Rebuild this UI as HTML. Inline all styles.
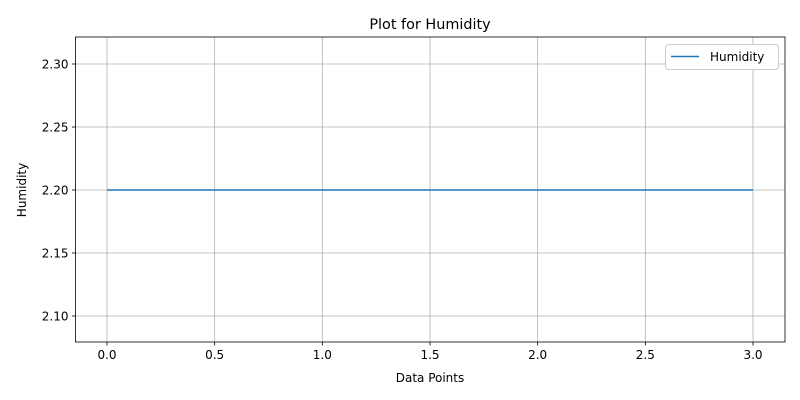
<!DOCTYPE html>
<html><head><meta charset="utf-8"><style>body{margin:0;background:#fff}svg{display:block;font-family:"DejaVu Sans","Liberation Sans",sans-serif}</style></head>
<body>
<svg id="chart" width="800" height="400"></svg>
<script>
const xValues=[0,1,2,3];
const humidity=[2.2,2.2,2.2,2.2];
const xTicks=[0,0.5,1,1.5,2,2.5,3];
const xTickLabels=["0.0","0.5","1.0","1.5","2.0","2.5","3.0"];
const yTicks=[2.10,2.15,2.20,2.25,2.30];
const yTickLabels=["2.10","2.15","2.20","2.25","2.30"];
const L=75.5,R=785,T=37,B=342;
const x=v=>107+(v-0)*(753-107)/3;
const y=v=>190-(v-2.2)*1260;
const svg=document.getElementById('chart');
const NS='http://www.w3.org/2000/svg';
function mk(tag,attrs,parent){const e=document.createElementNS(NS,tag);for(const k in attrs)e.setAttribute(k,attrs[k]);(parent||svg).appendChild(e);return e;}
const grid=mk('g',{});


xTicks.forEach((t,i)=>{
  const gx=mk('line',{x1:x(t),x2:x(t),y1:T,y2:B,stroke:'#b0b0b0','stroke-width':0.8},grid);
  
  
  mk('line',{x1:x(t),x2:x(t),y1:B,y2:B+3.5,stroke:'#000','stroke-width':0.8});
  const tl=mk('text',{x:x(t),y:B+17,'font-size':12,'text-anchor':'middle',fill:'#000'});
  tl.textContent=xTickLabels[i];
  
  
});
yTicks.forEach((t,i)=>{
  const gy=mk('line',{x1:L,x2:R,y1:y(t),y2:y(t),stroke:'#b0b0b0','stroke-width':0.8},grid);
  
  
  mk('line',{x1:L-3.5,x2:L,y1:y(t),y2:y(t),stroke:'#000','stroke-width':0.8});
  const tl=mk('text',{x:L-7,y:y(t)+4.5,'font-size':12,'text-anchor':'end',fill:'#000'});
  tl.textContent=yTickLabels[i];
  
  
});
const line=mk('polyline',{points:xValues.map((v,i)=>x(v)+','+y(humidity[i])).join(' '),fill:'none',stroke:'#1f77b4','stroke-width':1.5});


const frame=mk('rect',{x:L,y:T,width:R-L,height:B-T,fill:'none',stroke:'#000','stroke-width':0.8});


</script>
<svg width="800" height="400" style="position:absolute;left:0;top:0">
<text x="430" y="29" font-size="14.4" text-anchor="middle">Plot for Humidity</text>
<text x="430" y="382" font-size="12" text-anchor="middle">Data Points</text>
<text transform="translate(26,190) rotate(-90)" font-size="12" text-anchor="middle">Humidity</text>
<g>
<rect x="665.5" y="44.5" width="113" height="25" rx="3" fill="#fff" stroke="#ccc"/>
<line x1="671" x2="699" y1="56.5" y2="56.5" stroke="#1f77b4" stroke-width="1.5"/>
<text x="710" y="61" font-size="12">Humidity</text>
</g>
</svg>
</body></html>
